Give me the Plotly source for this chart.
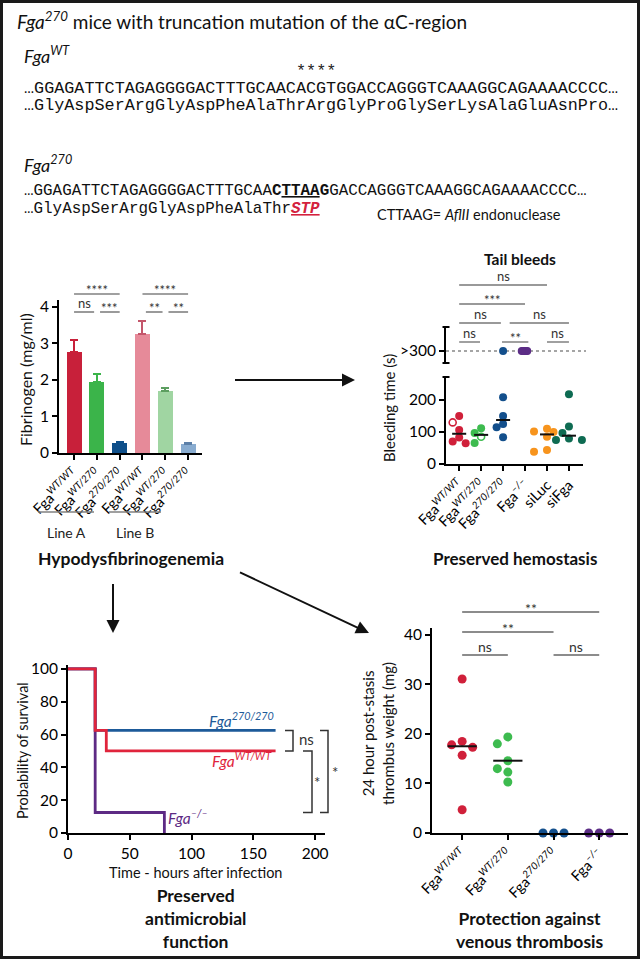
import numpy as np
import plotly.graph_objects as go

W, H = 640, 960
SANS = "Lato, 'Open Sans', sans-serif"
NARROW = "'Liberation Sans Narrow', Lato, sans-serif"
MONO = "'Liberation Mono', 'DejaVu Sans Mono', monospace"


def X(px):
    return px / W


def Y(py):
    return 1 - py / H


# ---------------- text content ----------------
title_text = "<i>Fga</i><sup><i>270</i></sup> mice with truncation mutation of the αC-region"
wt_label = "<i>Fga<sup>WT</sup></i>"
mut_label = "<i>Fga<sup>270</sup></i>"
wt_dna = "…GGAGATTCTAGAGGGGACTTTGCAACACGTGGACCAGGGTCAAAGGCAGAAAACCCC…"
wt_aa = "…GlyAspSerArgGlyAspPheAlaThrArgGlyProGlySerLysAlaGluAsnPro…"
mut_dna = "…GGAGATTCTAGAGGGGACTTTGCAA<b>C<u>TTAA</u>G</b>GACCAGGGTCAAAGGCAGAAAACCCC…"
mut_aa = "…GlyAspSerArgGlyAspPheAlaThr<span style='color:#d4213d'><u><b><i>STP</i></b></u></span>"
afl_note = "CTTAAG= <i>AflII</i> endonuclease"

# ---------------- fibrinogen bar chart ----------------
fib_labels = ["Fga<sup><i>WT/WT</i></sup>", "Fga<sup><i>WT/270</i></sup>", "Fga<sup><i>270/270</i></sup>",
              "Fga<sup><i>WT/WT</i></sup>", "Fga<sup><i>WT/270</i></sup>", "Fga<sup><i>270/270</i></sup>"]
fib_mean = [2.76, 1.95, 0.27, 3.27, 1.70, 0.26]
fib_err = [0.34, 0.21, 0.03, 0.35, 0.08, 0.02]
fib_colors = ["#c8203a", "#3bb44a", "#0f4f8a", "#e68a99", "#a0d5a2", "#89acd0"]
fib_err_colors = ["#c8203a", "#3bb44a", "#0f4f8a", "#c4566b", "#5c9e60", "#5d80a8"]

# ---------------- tail bleeds ----------------
bleed_groups = ["Fga<sup><i>WT/WT</i></sup>", "Fga<sup><i>WT/270</i></sup>", "Fga<sup><i>270/270</i></sup>",
                "Fga<sup><i>–/–</i></sup>", "siLuc", "siFga"]
bleed_values = [[150, 130, 106, 83, 70, 65],
                [112, 97, 85, 66],
                [209, 150, 125, 115, 84],
                [],
                [110, 102, 100, 85, 44, 38],
                [218, 117, 97, 80, 75, 75]]
bleed_open = [[0, 1, 0, 0, 0, 0],
              [0, 0, 1, 0],
              [0, 0, 0, 0, 0],
              [],
              [0, 0, 0, 0, 0, 0],
              [0, 0, 0, 0, 0, 0]]
bleed_over300 = [0, 0, 1, 6, 0, 0]
bleed_colors = ["#d0203a", "#3dbb4f", "#134f8c", "#5c2d86", "#f7941d", "#0e6b52"]

# ---------------- survival ----------------
km_wt_t = [0, 22, 31, 168]
km_wt_s = [100, 62.5, 50, 50]
km_270_t = [0, 22, 168]
km_270_s = [100, 62.5, 62.5]
km_ko_t = [0, 22, 78]
km_ko_s = [100, 12.5, 0]
km_colors = {"wt": "#e0243c", "270": "#1d5a99", "ko": "#5d2a84"}

# ---------------- thrombus ----------------
thr_groups = ["Fga<sup><i>WT/WT</i></sup>", "Fga<sup><i>WT/270</i></sup>", "Fga<sup><i>270/270</i></sup>",
              "Fga<sup><i>–/–</i></sup>"]
thr_values = [[31.1, 18.5, 17.8, 17.3, 15.7, 4.7],
              [19.4, 18.0, 14.6, 13.0, 12.3, 10.3],
              [0, 0, 0],
              [0, 0, 0]]
thr_colors = ["#d0203a", "#3dbb4f", "#134f8c", "#5c2d86"]


def swarm(values, px_per_unit, px_per_cat, diam, step):
    """Deterministic beeswarm: returns horizontal offsets in category units."""
    placed = []
    res = [0.0] * len(values)
    order = sorted(range(len(values)), key=lambda i: -values[i])
    cands = [0]
    for j in range(1, 8):
        cands += [-j * step, j * step]
    for i in order:
        yv = values[i] * px_per_unit
        for c in cands:
            if all((c - px) ** 2 + (yv - py) ** 2 >= diam ** 2 for px, py in placed):
                placed.append((c, yv))
                res[i] = c / px_per_cat
                break
    return res


fig = go.Figure()
shapes = []
annots = []


def txt(x, y, text, size=14, family=SANS, color="#111", xanchor="center", yanchor="middle",
        xref="paper", yref="paper", angle=0, align="center"):
    annots.append(dict(x=x, y=y, xref=xref, yref=yref, text=text, showarrow=False,
                       xanchor=xanchor, yanchor=yanchor, textangle=angle, align=align,
                       font=dict(family=family, size=size, color=color)))


def sig(xref, x0, x1, yline, label, lc="#808080", lw=1.6, size=13):
    shapes.append(dict(type="line", xref=xref, yref="paper", x0=x0, x1=x1,
                       y0=Y(yline), y1=Y(yline), line=dict(color=lc, width=lw)))
    off = 4 if "*" in label else 9
    txt((x0 + x1) / 2, Y(yline - off), label, size=size, color="#333", xref=xref)


# ================= top text =================
txt(X(15), Y(20), title_text, size=19, xanchor="left")
txt(X(22), Y(55), wt_label, size=18, xanchor="left")
cw1 = 0.6 * 16.8
txt(X(22 + 27 * cw1), Y(72), "****", size=16.8, family=MONO, xanchor="left", color="#222")
txt(X(22), Y(88), wt_dna, size=16.8, family=MONO, xanchor="left", color="#111")
txt(X(22), Y(106), wt_aa, size=16.8, family=MONO, xanchor="left", color="#111")
txt(X(22), Y(164), mut_label, size=18, xanchor="left")
txt(X(22), Y(191), mut_dna, size=15.9, family=MONO, xanchor="left", color="#111")
txt(X(22), Y(209), mut_aa, size=15.9, family=MONO, xanchor="left", color="#111")
txt(X(375), Y(214), afl_note, size=14.5, xanchor="left")

# ================= chart 1: bars =================
for i, (m, e, c, ec) in enumerate(zip(fib_mean, fib_err, fib_colors, fib_err_colors)):
    fig.add_trace(go.Bar(x=[i], y=[m], marker=dict(color=c, line=dict(width=0)), width=0.66,
                         error_y=dict(type="data", array=[e], arrayminus=[0], symmetric=False,
                                      color=ec, thickness=2, width=4),
                         xaxis="x", yaxis="y", showlegend=False, hoverinfo="skip"))

sig("x", 0, 2, 294, "****")
sig("x", 0, 0.88, 312, "ns")
sig("x", 1.14, 2, 312, "***")
sig("x", 3, 5, 294, "****")
sig("x", 3.15, 3.88, 312, "**")
sig("x", 4.14, 5, 312, "**")

txt(X(26), Y(380), "Fibrinogen (mg/ml)", size=16, angle=-90)
for (a, b, lab) in [(38, 94, "Line A"), (109, 161, "Line B")]:
    shapes.append(dict(type="line", xref="paper", yref="paper", x0=X(a), x1=X(b), y0=Y(512), y1=Y(512),
                       line=dict(color="#808080", width=1.5)))
    txt(X((a + b) / 2), Y(532), lab, size=14, color="#222")
txt(X(131), Y(558), "<b>Hypodysfibrinogenemia</b>", size=17.5)

# ================= chart 2: tail bleeds =================
PXU2 = 0.32
PXC2 = 22.0
for i, (vals, opens, col) in enumerate(zip(bleed_values, bleed_open, bleed_colors)):
    if vals:
        offs = swarm(vals, PXU2, PXC2, diam=7.2, step=6.5)
        fx = [i + offs[j] for j in range(len(vals)) if not opens[j]]
        fy = [vals[j] for j in range(len(vals)) if not opens[j]]
        ox = [i + offs[j] for j in range(len(vals)) if opens[j]]
        oy = [vals[j] for j in range(len(vals)) if opens[j]]
        fig.add_trace(go.Scatter(x=fx, y=fy, mode="markers", xaxis="x2", yaxis="y2",
                                 marker=dict(color=col, size=8, line=dict(width=0)),
                                 cliponaxis=False, showlegend=False, hoverinfo="skip"))
        if ox:
            fig.add_trace(go.Scatter(x=ox, y=oy, mode="markers", xaxis="x2", yaxis="y2",
                                     marker=dict(color=col, size=7, symbol="circle-open", line=dict(width=1.6)),
                                     cliponaxis=False, showlegend=False, hoverinfo="skip"))
    n_over = bleed_over300[i]
    if n_over:
        ov = [300] * n_over
        offs = swarm(ov, PXU2, PXC2, diam=1.1, step=1.1)
        fig.add_trace(go.Scatter(x=[i + o for o in offs], y=ov, mode="markers", xaxis="x2", yaxis="y3",
                                 marker=dict(color=col, size=8, line=dict(width=0)),
                                 cliponaxis=False, showlegend=False, hoverinfo="skip"))
    if vals:
        med = float(np.median(vals + [301] * n_over))
        fig.add_trace(go.Scatter(x=[i - 0.32, i + 0.32], y=[med, med], mode="lines", xaxis="x2", yaxis="y2",
                                 line=dict(color="#111", width=2), showlegend=False, hoverinfo="skip"))

shapes.append(dict(type="line", xref="paper", yref="y3", x0=X(446), x1=X(586), y0=300, y1=300,
                   line=dict(color="#888", width=1.5, dash="dot"), layer="below"))
for yy in (327, 363, 377):
    shapes.append(dict(type="line", xref="paper", yref="paper", x0=X(442.5), x1=X(449.5),
                       y0=Y(yy), y1=Y(yy), line=dict(color="black", width=2)))

sig("x2", 0, 4, 285, "ns", lc="#777", lw=1.4)
sig("x2", 0, 3, 304, "***", lc="#777", lw=1.4)
sig("x2", 0, 1.9, 323, "ns", lc="#777", lw=1.4)
sig("x2", 2.3, 5, 323, "ns", lc="#777", lw=1.4)
sig("x2", 0, 0.95, 342, "ns", lc="#777", lw=1.4)
sig("x2", 1.95, 3.15, 342, "**", lc="#777", lw=1.4)
sig("x2", 4, 5, 342, "ns", lc="#777", lw=1.4)

txt(X(520), Y(259), "<b>Tail bleeds</b>", size=15.5)
txt(X(389), Y(408), "Bleeding time (s)", size=15, angle=-90)
txt(X(515), Y(558), "<b>Preserved hemostasis</b>", size=17)

# ================= chart 3: survival =================
for t, s, c in [(km_270_t, km_270_s, km_colors["270"]), (km_ko_t, km_ko_s, km_colors["ko"]),
                (km_wt_t, km_wt_s, km_colors["wt"])]:
    fig.add_trace(go.Scatter(x=t, y=s, mode="lines", line=dict(color=c, width=2.8, shape="hv"),
                             xaxis="x3", yaxis="y4", cliponaxis=False, showlegend=False, hoverinfo="skip"))

txt(140.6, 68.9, "<i>Fga<sup>270/270</sup></i>", size=15.5, color=km_colors["270"], xref="x3", yref="y4")
txt(140.6, 44.5, "<i>Fga<sup>WT/WT</sup></i>", size=15.5, color=km_colors["wt"], xref="x3", yref="y4")
txt(97.4, 9.9, "<i>Fga<sup>–/–</sup></i>", size=15.5, color=km_colors["ko"], xref="x3", yref="y4")

for (xa, xb, ya, yb) in [(285, 293, km_270_s[-1], km_wt_s[-1]),
                         (303, 312, km_wt_s[-1], km_ko_s[1]),
                         (320, 328, km_270_s[-1], km_ko_s[1])]:
    shapes.append(dict(type="path", xref="paper", yref="y4",
                       path=f"M {X(xa)},{ya} L {X(xb)},{ya} L {X(xb)},{yb} L {X(xa)},{yb}",
                       line=dict(color="#333", width=1.5)))
txt(X(306), Y(739), "ns", size=15, color="#333")
txt(X(317), Y(782), "*", size=15, color="#333")
txt(X(335), Y(772), "*", size=15, color="#333")

txt(X(22), Y(751), "Probability of survival", size=14.5, family=NARROW, angle=-90)
txt(X(195), Y(872), "Time - hours after infection", size=14.5, family=NARROW)
txt(X(195), Y(918), "<b>Preserved<br>antimicrobial<br>function</b>", size=17.5)

# ================= chart 4: thrombus =================
PXU4 = 4.95
PXC4 = 45.7
for i, (vals, col) in enumerate(zip(thr_values, thr_colors)):
    offs = swarm(vals, PXU4, PXC4, diam=9, step=10.5)
    fig.add_trace(go.Scatter(x=[i + o for o in offs], y=vals, mode="markers", xaxis="x4", yaxis="y5",
                             marker=dict(color=col, size=9, line=dict(width=0)),
                             cliponaxis=False, showlegend=False, hoverinfo="skip"))
    if max(vals) > 0:
        mean = float(np.mean(vals))
        fig.add_trace(go.Scatter(x=[i - 0.32, i + 0.32], y=[mean, mean], mode="lines", xaxis="x4", yaxis="y5",
                                 line=dict(color="#111", width=2), showlegend=False, hoverinfo="skip"))

sig("x4", 0, 1, 655, "ns", lc="#666", lw=1.4, size=14)
sig("x4", 2, 3, 655, "ns", lc="#666", lw=1.4, size=14)
sig("x4", 0, 2, 632, "**", lc="#666", lw=1.4, size=14)
sig("x4", 0, 3, 612, "**", lc="#666", lw=1.4, size=14)

txt(X(378), Y(734), "24 hour post-stasis<br>thrombus weight (mg)", size=15, family=NARROW, angle=-90)
txt(X(530), Y(930), "<b>Protection against<br>venous thrombosis</b>", size=17.5)

# ================= arrows =================
for (hx, hy, tx, ty) in [(355, 380, 232, 380), (113, 633, 113, 574), (369, 633, 237, 571)]:
    annots.append(dict(x=X(hx), y=Y(hy), xref="paper", yref="paper", ax=tx - hx, ay=ty - hy,
                       axref="pixel", ayref="pixel", showarrow=True, arrowhead=2, arrowsize=1.3,
                       arrowwidth=2, arrowcolor="#111", text=" "))

# frame
shapes.append(dict(type="rect", xref="paper", yref="paper", x0=X(1.5), x1=X(638.5), y0=Y(957.5), y1=Y(1.5),
                   line=dict(color="#1a1a1a", width=3)))


def ax(domain, rng, **kw):
    d = dict(domain=domain, range=rng, showline=True, linecolor="black", linewidth=2, ticks="outside",
             ticklen=5, tickwidth=2, tickcolor="black", showgrid=False, zeroline=False, automargin=False,
             tickfont=dict(family=SANS, size=15.5, color="black"), fixedrange=True)
    d.update(kw)
    return d


lab_font = dict(family=SANS, size=14.5, color="black")
fig.update_layout(
    template="none",
    width=W, height=H, margin=dict(l=0, r=0, t=0, b=0, pad=0, autoexpand=False),
    paper_bgcolor="white", plot_bgcolor="rgba(0,0,0,0)", showlegend=False, bargap=0,
    xaxis=ax([X(59), X(202)], [-0.66, 5.61], anchor="y", tickvals=list(range(len(fib_labels))),
             ticktext=fib_labels, tickangle=-45, tickfont=lab_font),
    yaxis=ax([Y(453), Y(300)], [0, 4.19], anchor="x", tickvals=[0, 1, 2, 3, 4]),
    xaxis2=ax([X(446), X(583)], [-0.6, 5.64], anchor="y2", tickvals=list(range(len(bleed_groups))),
              ticktext=bleed_groups, tickangle=-45, tickfont=lab_font),
    yaxis2=ax([Y(464), Y(377)], [0, 272], anchor="x2", tickvals=[0, 100, 200]),
    yaxis3=ax([Y(363), Y(327)], [262.5, 375], anchor="x2", tickvals=[300], ticktext=[">300"]),
    xaxis3=ax([X(68), X(325)], [0, 208], anchor="y4", tickvals=[0, 50, 100, 150, 200]),
    yaxis4=ax([Y(833), Y(665)], [0, 102.4], anchor="x3", tickvals=[0, 20, 40, 60, 80, 100]),
    xaxis4=ax([X(432), X(628)], [-0.66, 3.63], anchor="y5", tickvals=list(range(len(thr_groups))),
              ticktext=thr_groups, tickangle=-45, tickfont=lab_font),
    yaxis5=ax([Y(833), Y(628)], [0, 41.4], anchor="x4", tickvals=[0, 10, 20, 30, 40]),
    shapes=shapes, annotations=annots,
)

fig.write_html("out.html", config={"displayModeBar": False},
               post_script="document.body.style.margin='0';document.body.style.overflow='hidden';")
